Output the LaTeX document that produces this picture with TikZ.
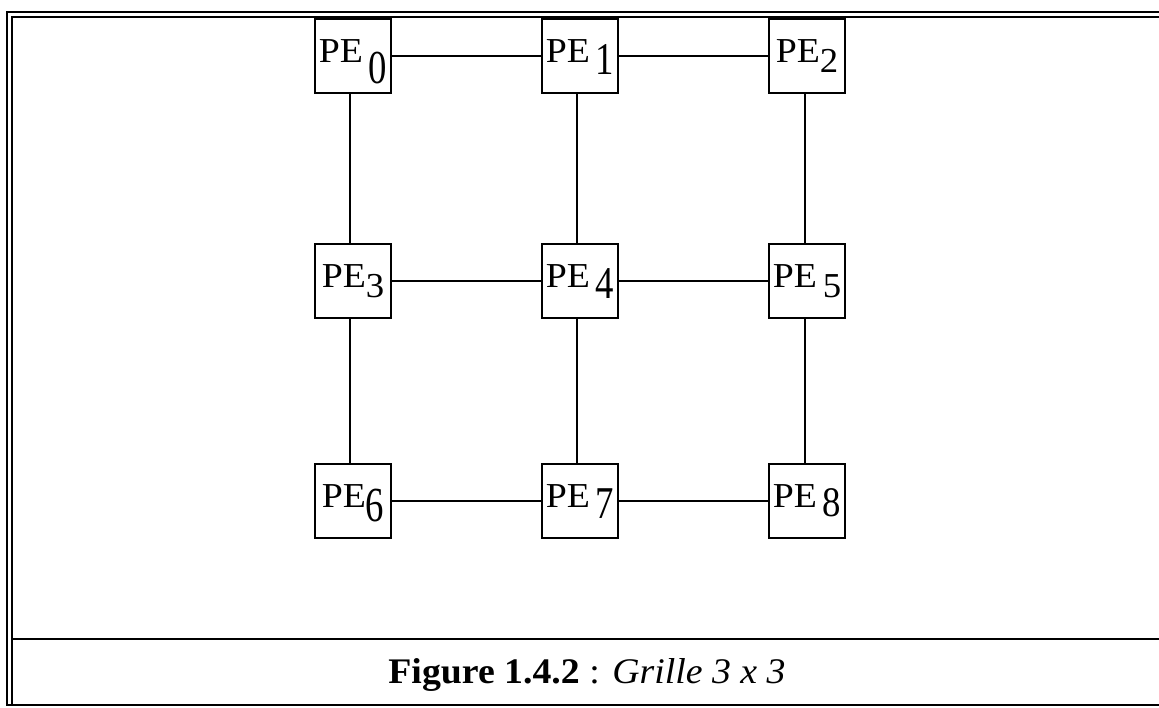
\documentclass[tikz,border=0pt]{standalone}
\usepackage{fontspec}
\usepackage{graphicx}
\setmainfont{Liberation Serif}
% #1 digit, #2 vertical stretch, #3 drop below baseline
\newcommand\pesub[3]{\raisebox{-#3pt}{\scalebox{1.05}[#2]{#1}}}
\newcommand\pename{\scalebox{1.08}[1]{PE}}
\begin{document}
\begin{tikzpicture}[x=1pt,y=-1pt,
  pe/.style={draw, line width=2.6pt, minimum width=76pt, minimum height=74pt, inner sep=0pt,
    text height=23pt, text depth=11pt, font=\fontsize{35}{37}\selectfont},
  link/.style={line width=2.2pt},
  frameline/.style={line width=2.8pt}]
\useasboundingbox (0,0) rectangle (1159,707);
\begin{scope}
\clip (0,0) rectangle (1159,707);
\draw[frameline] (1170,12) -- (7,12) -- (7,705) -- (1170,705);
\draw[frameline] (1170,17) -- (12,17) -- (12,705);
\draw[frameline] (12,639) -- (1170,639);
\end{scope}
\node[pe] (p0) at (353,56)  {\pename\,\pesub{0}{1.35}{21}};
\node[pe] (p1) at (580,56)  {\pename\,\pesub{1}{1.3}{12}};
\node[pe] (p2) at (807,56)  {\pename\pesub{2}{1}{10}};
\node[pe] (p3) at (353,281) {\pename\pesub{3}{1}{10}};
\node[pe] (p4) at (580,281) {\pename\,\pesub{4}{1.3}{11}};
\node[pe] (p5) at (807,281) {\pename\,\pesub{5}{1}{10}};
\node[pe] (p6) at (353,501) {\pename\pesub{6}{1.4}{14}};
\node[pe] (p7) at (580,501) {\pename\,\pesub{7}{1.3}{11}};
\node[pe] (p8) at (807,501) {\pename\,\pesub{8}{1.2}{9}};
\draw[link] (p0) -- (p1);
\draw[link] (p1) -- (p2);
\draw[link] (p3) -- (p4);
\draw[link] (p4) -- (p5);
\draw[link] (p6) -- (p7);
\draw[link] (p7) -- (p8);
\draw[link] ([xshift=-3pt]p0.south) -- ([xshift=-3pt]p3.north);
\draw[link] ([xshift=-3pt]p3.south) -- ([xshift=-3pt]p6.north);
\draw[link] ([xshift=-3pt]p1.south) -- ([xshift=-3pt]p4.north);
\draw[link] ([xshift=-3pt]p4.south) -- ([xshift=-3pt]p7.north);
\draw[link] ([xshift=-2pt]p2.south) -- ([xshift=-2pt]p5.north);
\draw[link] ([xshift=-2pt]p5.south) -- ([xshift=-2pt]p8.north);
\node[anchor=base] (cap) at (587,683) {\scalebox{1.05}[1]{\fontsize{36}{38}\selectfont\textbf{Figure 1.4.2} : \textit{Grille 3 x 3}}};
\end{tikzpicture}
\end{document}
